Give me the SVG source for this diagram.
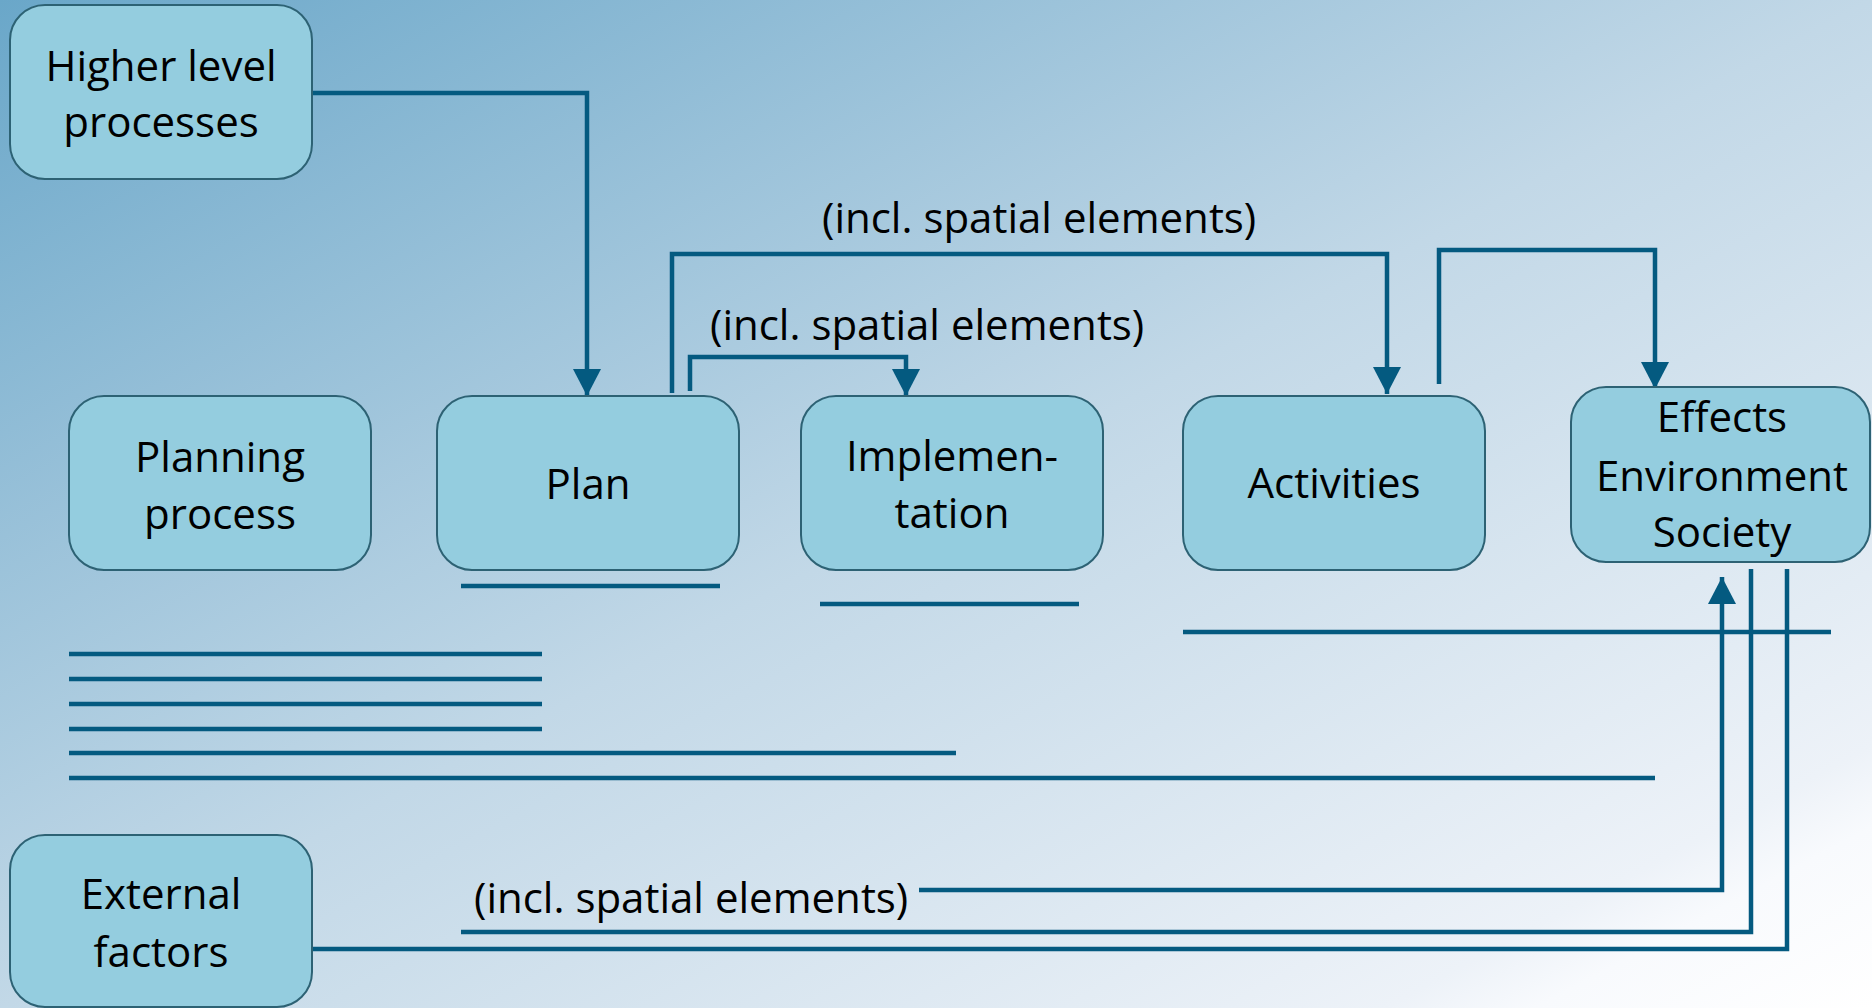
<svg xmlns="http://www.w3.org/2000/svg" width="1872" height="1008" viewBox="0 0 1872 1008">
<defs>
<linearGradient id="bg" x1="0" y1="0" x2="1" y2="1">
<stop offset="0" stop-color="#6AA7C9"/>
<stop offset="0.5" stop-color="#C2D8E7"/>
<stop offset="0.87" stop-color="#EDF2F8"/>
<stop offset="0.91" stop-color="#F8FAFD"/>
<stop offset="1" stop-color="#FFFFFF"/>
</linearGradient>
<marker id="arr" markerUnits="userSpaceOnUse" markerWidth="28" markerHeight="28" viewBox="0 0 28 28" refX="27" refY="14" orient="auto">
<path d="M0,0 L27,14 L0,28 z" fill="#045A80"/>
</marker>
<style>
.node rect { fill: #94CDDF; stroke: #2D6274; stroke-width: 2; }
.node text, .lbl { font-family: "Open Sans", "Noto Sans", sans-serif; font-size: 42px; fill: #000; }
.node text { text-anchor: middle; }
.con path { fill: none; stroke: #045A80; stroke-width: 4.5; stroke-linejoin: miter; }
.bar line { stroke: #045A80; stroke-width: 4.5; }
</style>
</defs>
<rect x="0" y="0" width="1872" height="1008" fill="url(#bg)"/>

<g id="bars" class="bar">
<line x1="461" y1="586" x2="720" y2="586"/>
<line x1="820" y1="604" x2="1079" y2="604"/>
<line x1="1183" y1="632" x2="1831" y2="632"/>
<line x1="69" y1="654" x2="542" y2="654"/>
<line x1="69" y1="679" x2="542" y2="679"/>
<line x1="69" y1="704" x2="542" y2="704"/>
<line x1="69" y1="729" x2="542" y2="729"/>
<line x1="69" y1="753" x2="956" y2="753"/>
<line x1="69" y1="778" x2="1655" y2="778"/>
</g>

<g id="connectors" class="con">
<path d="M313,93 H587 V396" marker-end="url(#arr)"/>
<path d="M672,393 V254 H1387 V394" marker-end="url(#arr)"/>
<path d="M690,391 V357 H906 V396" marker-end="url(#arr)"/>
<path d="M1439,384 V250 H1655 V389" marker-end="url(#arr)"/>
<path d="M919,890 H1722 V577" marker-end="url(#arr)"/>
<path d="M461,932 H1751 V569"/>
<path d="M301,949 H1787 V569"/>
</g>

<text class="lbl" x="822" y="233">(incl. spatial elements)</text>
<text class="lbl" x="710" y="340">(incl. spatial elements)</text>
<text class="lbl" x="474" y="913">(incl. spatial elements)</text>

<g id="higher" class="node">
<rect x="10" y="5" width="302" height="174" rx="35"/>
<text x="161" y="81">Higher level</text>
<text x="161" y="137">processes</text>
</g>
<g id="planning" class="node">
<rect x="69" y="396" width="302" height="174" rx="35"/>
<text x="220" y="472">Planning</text>
<text x="220" y="529">process</text>
</g>
<g id="plan" class="node">
<rect x="437" y="396" width="302" height="174" rx="35"/>
<text x="588" y="499">Plan</text>
</g>
<g id="implementation" class="node">
<rect x="801" y="396" width="302" height="174" rx="35"/>
<text x="952" y="471">Implemen-</text>
<text x="952" y="528">tation</text>
</g>
<g id="activities" class="node">
<rect x="1183" y="396" width="302" height="174" rx="35"/>
<text x="1334" y="498">Activities</text>
</g>
<g id="effects" class="node">
<rect x="1571" y="387" width="299" height="175" rx="35"/>
<text x="1722" y="432">Effects</text>
<text x="1722" y="491">Environment</text>
<text x="1722" y="547">Society</text>
</g>
<g id="external" class="node">
<rect x="10" y="835" width="302" height="172" rx="35"/>
<text x="161" y="909">External</text>
<text x="161" y="967">factors</text>
</g>
</svg>
